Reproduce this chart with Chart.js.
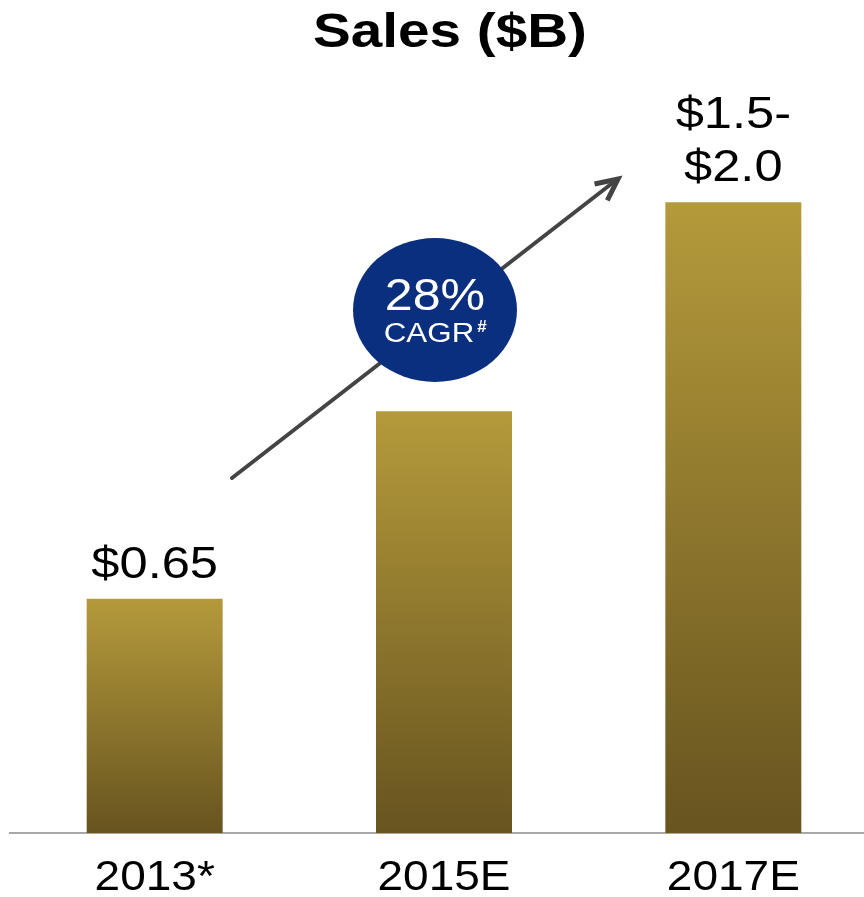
<!DOCTYPE html>
<html lang="en">
<head>
    <meta charset="UTF-8">
    <title>Sales ($B)</title>
    <style>
        html, body { margin: 0; padding: 0; background: #fff; overflow: hidden; }
        #chart-container { width: 878px; height: 897px; }
    </style>
</head>
<body>
    <div id="chart-container">
        <canvas id="myChart"></canvas>
    </div>
    <script src="https://cdn.jsdelivr.net/npm/chart.js"></script>

    <script>
        // Sales by year, in billions of dollars
        const years = ['2013*', '2015E', '2017E'];
        const sales = [0.65, 1.17, 1.75];
        const valueLabels = [['$0.65'], [], ['$1.5-', '$2.0']];
        const cagrText = '28%';

        const FONT = '"Liberation Sans", Arial, sans-serif';

        // text stretched a little wider than the font's own shape
        function wideText(ctx, text, x, y, font, stretch, color) {
            ctx.save();
            ctx.font = font;
            ctx.fillStyle = color;
            ctx.textAlign = 'center';
            ctx.textBaseline = 'alphabetic';
            ctx.translate(x, y);
            ctx.scale(stretch, 1);
            ctx.fillText(text, 0, 0);
            ctx.restore();
        }

        // golden gradient running from each bar's top down to the axis
        function barGradient(context) {
            const chart = context.chart;
            const yScale = chart.scales.y;
            if (!chart.chartArea || !yScale) return '#a38a34';
            const top = yScale.getPixelForValue(context.raw);
            const bottom = yScale.getPixelForValue(0);
            const g = chart.ctx.createLinearGradient(0, top, 0, bottom);
            g.addColorStop(0, '#b59a3b');
            g.addColorStop(1, '#67541f');
            return g;
        }

        const labelsPlugin = {
            id: 'salesLabels',
            afterDraw(chart) {
                const ctx = chart.ctx;
                const x = chart.scales.x;
                const y = chart.scales.y;

                // title
                wideText(ctx, 'Sales ($B)', 450, 47, 'bold 48px ' + FONT, 1.18, '#000');

                // category labels under the axis
                years.forEach((yr, i) => {
                    wideText(ctx, yr, x.getPixelForValue(i), 890, '43px ' + FONT, 1.07, '#000');
                });

                // value labels above bars
                valueLabels.forEach((lines, i) => {
                    const cx = x.getPixelForValue(i);
                    const top = y.getPixelForValue(sales[i]);
                    lines.forEach((t, j) => {
                        const by = top - 21 - (lines.length - 1 - j) * 53;
                        wideText(ctx, t, cx, by, '44px ' + FONT, 1.15, '#000');
                    });
                });

                // growth arrow from the first bar up past the second
                const x0 = 232, y0 = 478, x1 = 618, y1 = 179;
                ctx.save();
                ctx.strokeStyle = '#444';
                ctx.lineWidth = 4;
                ctx.lineCap = 'round';
                ctx.beginPath();
                ctx.moveTo(x0, y0);
                ctx.lineTo(x1 - 3, y1 + 2);
                ctx.stroke();
                const ang = Math.atan2(y1 - y0, x1 - x0);
                const len = 24;
                ctx.lineWidth = 5;
                ctx.lineJoin = 'miter';
                ctx.lineCap = 'butt';
                ctx.beginPath();
                ctx.moveTo(x1 - len * Math.cos(ang - 0.45), y1 - len * Math.sin(ang - 0.45));
                ctx.lineTo(x1, y1);
                ctx.lineTo(x1 - len * Math.cos(ang + 0.45), y1 - len * Math.sin(ang + 0.45));
                ctx.stroke();
                ctx.restore();

                // CAGR badge
                ctx.save();
                ctx.fillStyle = '#0b2f7f';
                ctx.beginPath();
                ctx.ellipse(435, 310, 82, 72, 0, 0, Math.PI * 2);
                ctx.fill();
                ctx.restore();
                wideText(ctx, cagrText, 435, 310, '44px ' + FONT, 1.14, '#fff');
                wideText(ctx, 'CAGR', 429, 342, '27px ' + FONT, 1.16, '#fff');
                wideText(ctx, '#', 482, 332, 'bold 17px ' + FONT, 1.0, '#fff');
            }
        };

        const ctx = document.getElementById('myChart').getContext('2d');
        new Chart(ctx, {
            type: 'bar',
            data: {
                labels: years,
                datasets: [{
                    data: sales,
                    backgroundColor: barGradient,
                    borderWidth: 0,
                    barPercentage: 0.47,
                    categoryPercentage: 1.0
                }]
            },
            options: {
                responsive: true,
                maintainAspectRatio: false,
                animation: false,
                layout: {
                    padding: { left: 10, right: 0, top: 4, bottom: 56 }
                },
                plugins: {
                    legend: { display: false },
                    title: { display: false },
                    tooltip: { enabled: false }
                },
                scales: {
                    x: {
                        offset: true,
                        grid: { display: false },
                        border: { display: true, color: '#a8a8a8', width: 2 },
                        ticks: { display: false }
                    },
                    y: {
                        display: false,
                        min: 0,
                        max: 2.3
                    }
                }
            },
            plugins: [labelsPlugin]
        });
    </script>
</body>
</html>
